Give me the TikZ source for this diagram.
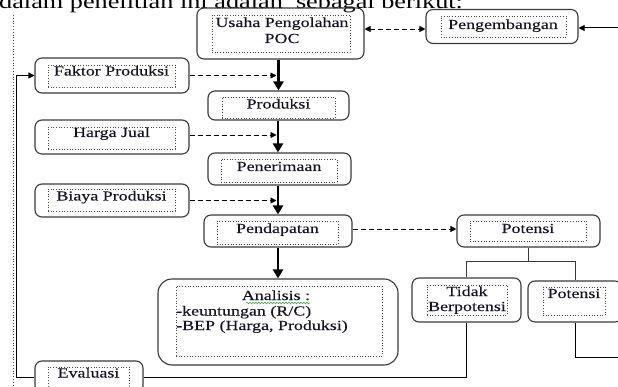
\documentclass[tikz,border=0pt]{standalone}
\usepackage{fontspec}
\setmainfont[FakeStretch=1.3,FakeBold=0.15]{Liberation Serif}
\newfontfamily\headfont[FakeStretch=1.3]{Liberation Serif}
\usetikzlibrary{arrows.meta,decorations.pathmorphing}
\definecolor{bordergray}{HTML}{3A3A3A}
\definecolor{dotgray}{HTML}{4A4A4A}
\definecolor{squig}{HTML}{3CB043}
\definecolor{txtcol}{HTML}{141428}
\begin{document}
\begin{tikzpicture}[x=1pt,y=-1pt,
  obox/.style={draw=bordergray, line width=1.1pt, rounded corners=7pt, inner sep=0pt},
  ibox/.style={draw=dotgray, dotted, line width=0.7pt, inner sep=0pt},
  txt/.style={inner sep=0pt, text=txtcol, font=\fontsize{13.8}{16}\selectfont, anchor=base},
  ltxt/.style={txt, anchor=base west},
  thickarrow/.style={line width=2.6pt, -{Triangle[length=9pt,width=10pt]}},
  dasharrow/.style={line width=0.9pt, dash pattern=on 5pt off 3pt, -{Triangle[length=6pt,width=6pt]}},
  conn/.style={line width=1pt, draw=bordergray},
  tipped/.style={-{Triangle[length=6pt,width=6pt]}}
]
\clip (0,0) rectangle (618,387);
\fill[white] (0,0) rectangle (618,387);

% heading text
\node[inner sep=0pt, anchor=base west, font=\headfont\fontsize{20.2}{22}\selectfont] (head) at (-1,9) {dalam penelitian ini adalah\ \ sebagai berikut:};

% page margin dotted line
\coordinate (mTop) at (13,15);
\coordinate (mBot) at (13,390);
\draw[dotgray, dotted, line width=0.8pt] (mTop) -- (mBot);

% Usaha Pengolahan POC
\node[obox, minimum width=167, minimum height=51] (usaha) at (280.5,33.5) {};
\node[ibox, minimum width=138, minimum height=37] (usahaI) at (281,33.5) {};
\node[txt] (usahaT1) at (282,27) {Usaha Pengolahan};
\node[txt] (usahaT2) at (282,43) {POC};

% Pengembangan
\node[obox, minimum width=152, minimum height=34] (peng) at (502,26.5) {};
\node[ibox, minimum width=125, minimum height=21] (pengI) at (503.5,26.5) {};
\node[txt] (pengT) at (503,29) {Pengembangan};

% Faktor Produksi
\node[obox, minimum width=154, minimum height=35] (faktor) at (112,75.5) {};
\node[ibox, minimum width=127, minimum height=22] (faktorI) at (111.5,76) {};
\node[txt] (faktorT) at (111.5,75.5) {Faktor Produksi};

% Produksi
\node[obox, minimum width=141, minimum height=29] (produksi) at (278.5,105.5) {};
\node[ibox, minimum width=113, minimum height=21] (produksiI) at (278.5,107.5) {};
\node[txt] (produksiT) at (278.5,108.5) {Produksi};

% Harga Jual
\node[obox, minimum width=154, minimum height=34] (harga) at (112,137) {};
\node[ibox, minimum width=127, minimum height=22] (hargaI) at (111.5,138) {};
\node[txt] (hargaT) at (111.5,137) {Harga Jual};

% Penerimaan
\node[obox, minimum width=143, minimum height=32] (penerimaan) at (279.5,169) {};
\node[ibox, minimum width=116, minimum height=23] (penerimaanI) at (279,170.5) {};
\node[txt] (penerimaanT) at (279,171) {Penerimaan};

% Biaya Produksi
\node[obox, minimum width=154, minimum height=33] (biaya) at (112,200.5) {};
\node[ibox, minimum width=127, minimum height=22] (biayaI) at (111.5,200) {};
\node[txt] (biayaT) at (111.5,200.5) {Biaya Produksi};

% Pendapatan
\node[obox, minimum width=148, minimum height=32] (pendapatan) at (278,231) {};
\node[ibox, minimum width=121, minimum height=23] (pendapatanI) at (277.5,232.5) {};
\node[txt] (pendapatanT) at (277.5,233) {Pendapatan};

% Potensi (top)
\node[obox, minimum width=143, minimum height=32] (pot1) at (528.5,231) {};
\node[ibox, minimum width=116, minimum height=20] (pot1I) at (528,231) {};
\node[txt] (pot1T) at (528,233) {Potensi};

% Tidak Berpotensi
\node[obox, minimum width=109, minimum height=44] (tidak) at (466.5,300) {};
\node[ibox, minimum width=80, minimum height=30] (tidakI) at (467,300) {};
\node[txt] (tidakT1) at (467,296) {Tidak};
\node[txt] (tidakT2) at (467,311) {Berpotensi};

% Potensi (bottom)
\node[obox, minimum width=94, minimum height=41] (pot2) at (575,301.5) {};
\node[ibox, minimum width=62, minimum height=28] (pot2I) at (574,301) {};
\node[txt] (pot2T) at (574,298) {Potensi};

% Analisis
\node[obox, rounded corners=14pt, minimum width=240, minimum height=86] (analisis) at (278,322) {};
\node[ibox, minimum width=206, minimum height=70] (analisisI) at (279,321) {};
\node[txt] (analisisT) at (276,300) {Analisis :};
\node[ltxt] (analisisL1) at (176,315.5) {-keuntungan (R/C)};
\node[ltxt] (analisisL2) at (176,330) {-BEP (Harga, Produksi)};
\coordinate (sqA) at (246,303);
\coordinate (sqB) at (310,303);
\draw[squig, line width=0.6pt, decorate, decoration={snake, amplitude=0.8pt, segment length=3pt}] (sqA) -- (sqB);

% Evaluasi
\node[obox, minimum width=108, minimum height=32] (evaluasi) at (89,377) {};
\node[ibox, minimum width=81, minimum height=22] (evaluasiI) at (88.5,378) {};
\node[txt] (evaluasiT) at (88.5,377.5) {Evaluasi};

% thick main flow arrows
\draw[thickarrow] (usaha.south -| produksi.north) -- (produksi.north);
\draw[thickarrow] (produksi.south -| pendapatan.north) -- (penerimaan.north -| pendapatan.north);
\draw[thickarrow] (penerimaan.south -| pendapatan.north) -- (pendapatan.north);
\draw[thickarrow] (pendapatan.south) -- (analisis.north);

% dashed input arrows
\draw[dasharrow, shorten >=1.5pt] (faktor.east) -- (faktor.east -| pendapatan.north);
\draw[dasharrow, shorten >=1.5pt] ([yshift=2pt]harga.east) -- ([yshift=2pt]harga.east -| pendapatan.north);
\draw[dasharrow, shorten >=1.5pt] (biaya.east) -- (biaya.east -| pendapatan.north);
\draw[dasharrow] ([yshift=2pt]pendapatan.east) -- ([yshift=2pt]pot1.west);
\draw[dasharrow, {Triangle[length=6pt,width=6pt]}-{Triangle[length=6pt,width=6pt]}] ([yshift=-2.5pt]usaha.east |- peng.west) -- ([yshift=-2.5pt]peng.west);

% right incoming arrow to Pengembangan
\coordinate (rTop) at (625,28);
\draw[conn, draw=black, tipped] (rTop) -- (peng.east |- rTop);

% tree under Potensi
\coordinate (split) at (528.5,262);
\draw[conn] (pot1.south) -- (split);
\draw[conn] (tidak.north) -- (tidak.north |- split) -- (pot2.north |- split) -- (pot2.north);

% Potensi (bottom) to right edge
\coordinate (rBot) at (625,357);
\draw[conn, draw=black] (pot2.south) |- (rBot);

% Tidak Berpotensi to Evaluasi
\draw[conn, draw=black] (tidak.south) |- (evaluasi.east);

% feedback loop Evaluasi -> Faktor Produksi
\coordinate (fbx) at (16,0);
\draw[conn, draw=black, tipped] (evaluasi.west) -- (evaluasi.west -| fbx) |- (faktor.west);
\end{tikzpicture}
\end{document}
